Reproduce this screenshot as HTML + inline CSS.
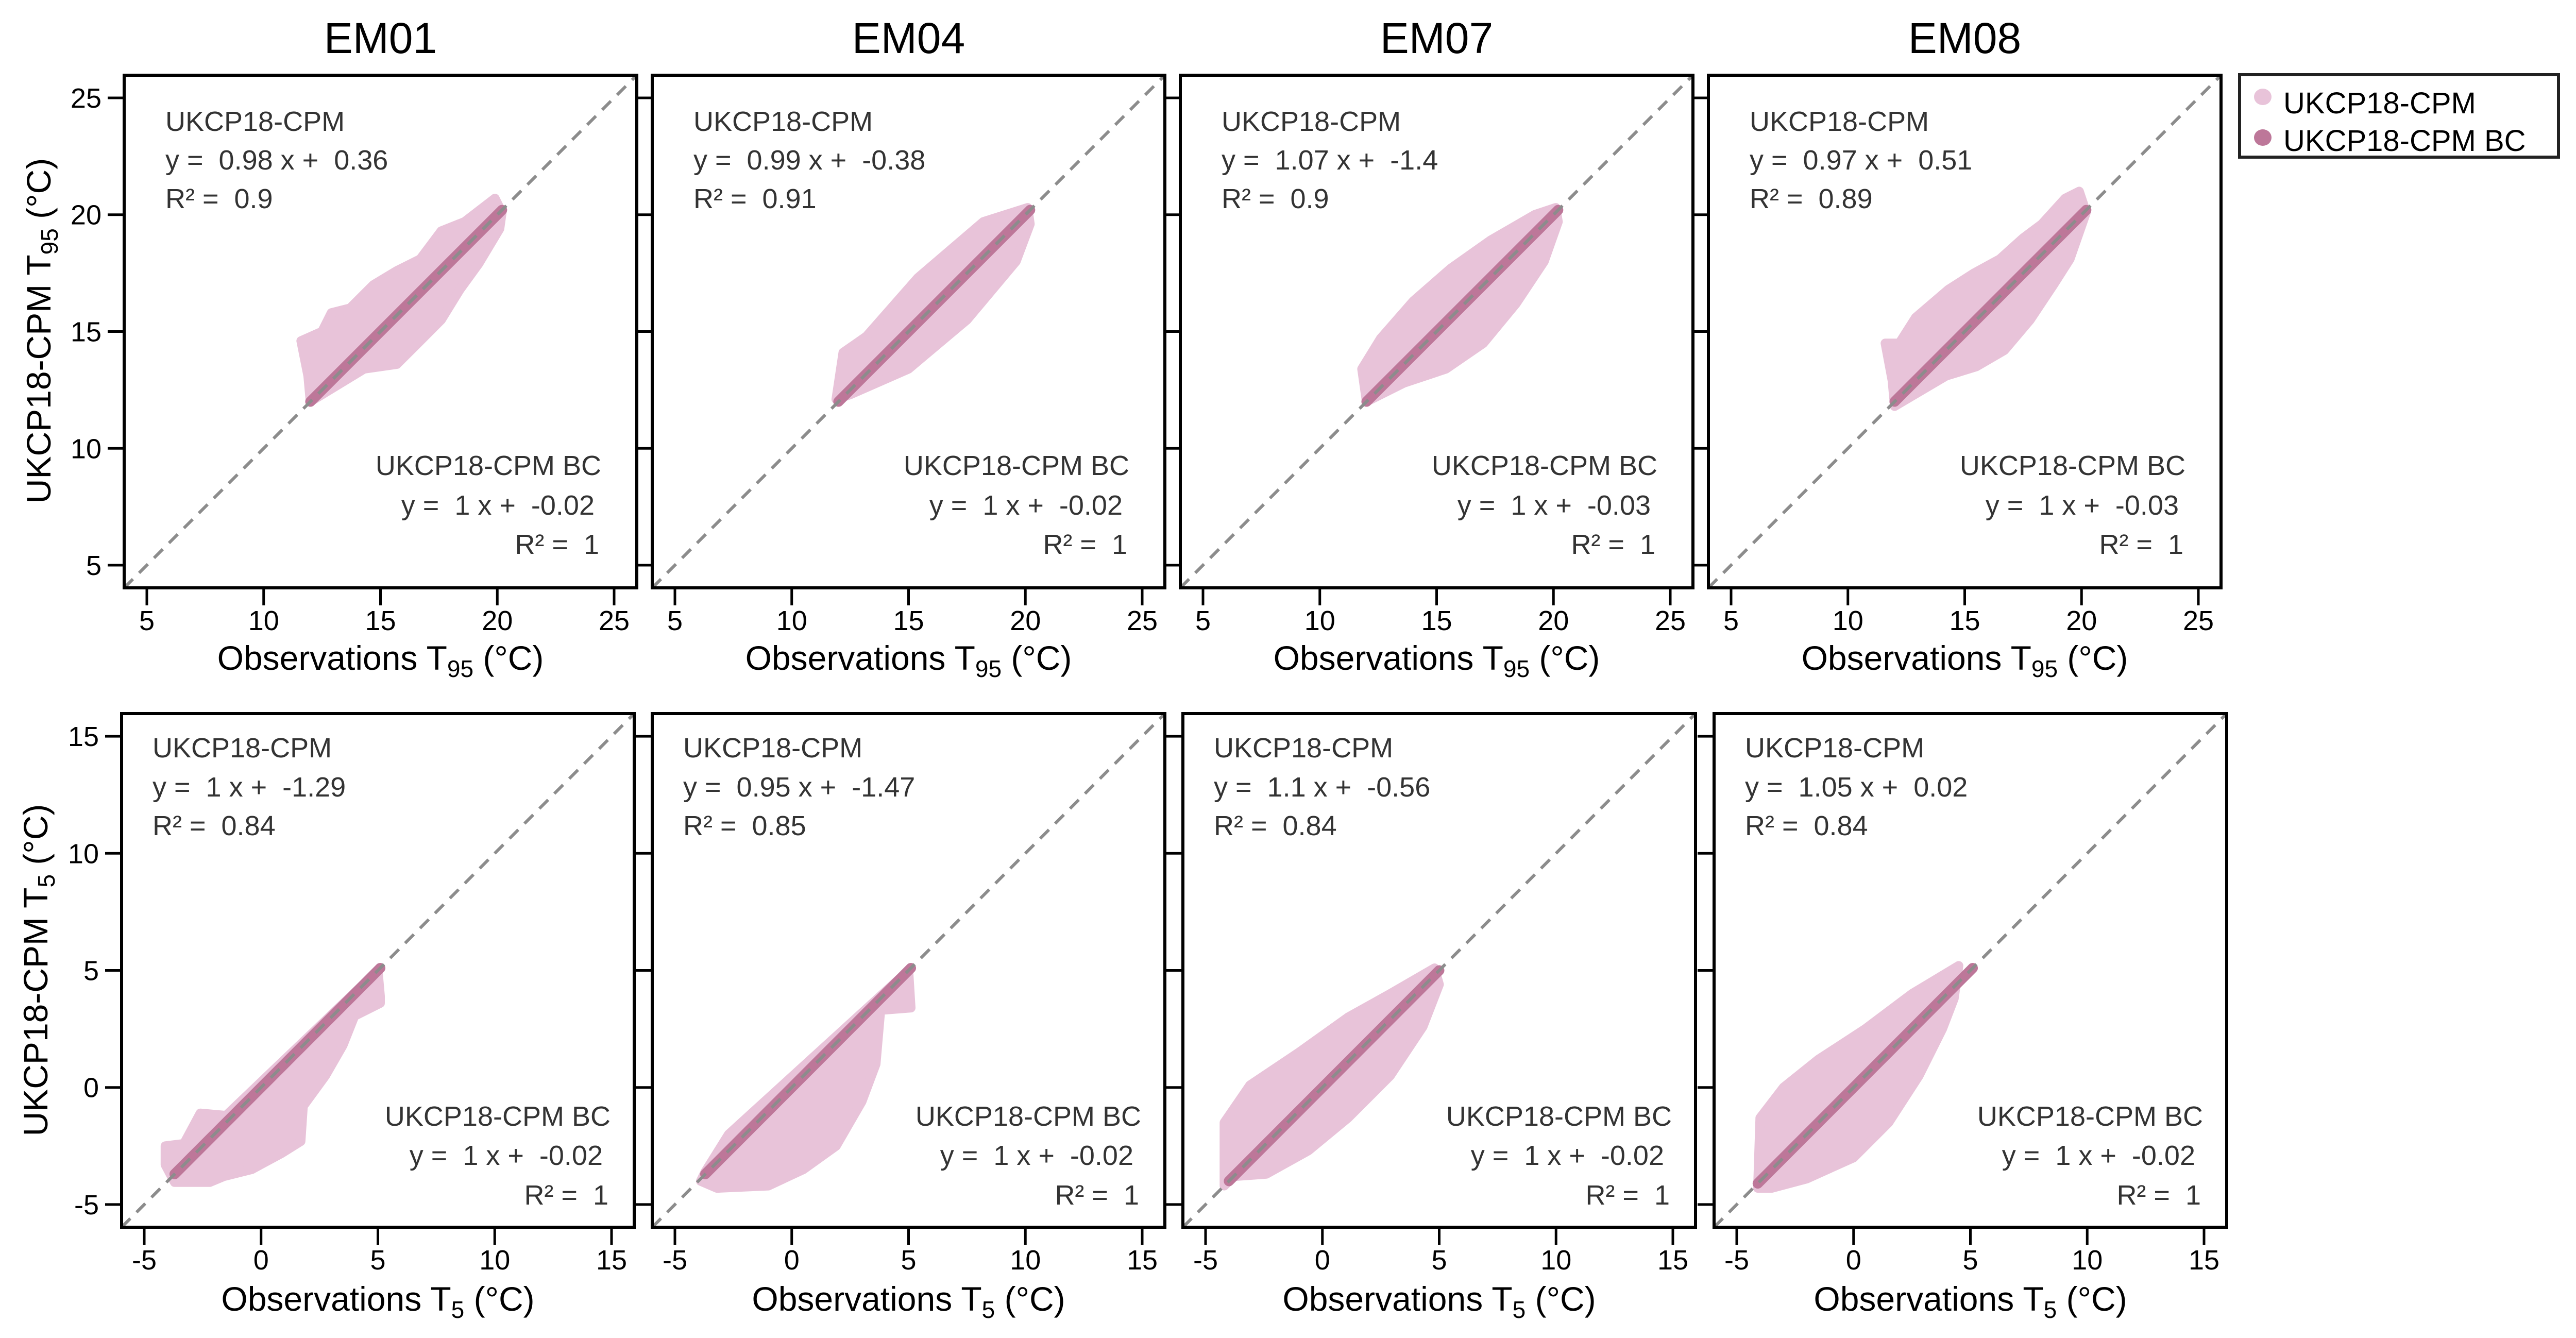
<!DOCTYPE html>
<html><head><meta charset="utf-8">
<style>
html,body{margin:0;padding:0;background:#fff;}
svg{display:block;font-family:"Liberation Sans",Arial,sans-serif;}
svg text{white-space:pre;}
</style></head>
<body>
<svg id="chart" xmlns="http://www.w3.org/2000/svg" width="5004" height="2597" viewBox="0 0 5004 2597">
<rect x="0" y="0" width="5004" height="2597" fill="#fff"/>
<g>
<rect x="4347" y="145" width="619" height="160" fill="#fff" stroke="#222" stroke-width="6"/>
<ellipse cx="4392" cy="188" rx="17" ry="16" fill="#e8c3d9"/>
<text x="4432" y="220" font-size="58">UKCP18-CPM</text>
<ellipse cx="4392" cy="267" rx="17" ry="16" fill="#bd7799"/>
<text x="4432" y="293" font-size="58">UKCP18-CPM BC</text>
</g>
</svg>
<script>
const members = ["EM01","EM04","EM07","EM08"];
const topTicks = [5,10,15,20,25];
const bottomTicks = [-5,0,5,10,15];
const topDomain = [4.03,25.97];
const bottomDomain = [-5.97,15.97];
const topCpmEq = ["y =  0.98 x +  0.36","y =  0.99 x +  -0.38","y =  1.07 x +  -1.4","y =  0.97 x +  0.51"];
const topCpmR2 = ["R² =  0.9","R² =  0.91","R² =  0.9","R² =  0.89"];
const topBcEq = ["y =  1 x +  -0.02","y =  1 x +  -0.02","y =  1 x +  -0.03","y =  1 x +  -0.03"];
const bottomCpmEq = ["y =  1 x +  -1.29","y =  0.95 x +  -1.47","y =  1.1 x +  -0.56","y =  1.05 x +  0.02"];
const bottomCpmR2 = ["R² =  0.84","R² =  0.85","R² =  0.84","R² =  0.84"];
const bottomBcEq = ["y =  1 x +  -0.02","y =  1 x +  -0.02","y =  1 x +  -0.02","y =  1 x +  -0.02"];
const topBcRange = [[12.0,20.2],[12.0,20.2],[12.0,20.2],[12.0,20.2]];
const bottomBcRange = [[-3.7,5.1],[-3.7,5.1],[-4.0,5.0],[-4.1,5.1]];
const topHullEM01 = [[11.6,14.6],[11.9,13.1],[12.0,12.0],[14.3,13.4],[15.7,13.6],[16.6,14.5],[17.6,15.5],[18.4,16.8],[19.2,17.9],[20.1,19.4],[20.2,20.1],[19.9,20.7],[18.6,19.7],[17.6,19.3],[16.7,18.1],[15.7,17.6],[14.7,17.0],[13.7,16.0],[12.9,15.8],[12.5,15.0]];
const topHullEM04 = [[11.9,12.1],[12.2,14.1],[13.2,14.8],[15.4,17.3],[18.2,19.7],[20.1,20.3],[20.2,19.6],[19.6,18.0],[17.5,15.5],[15.0,13.4],[12.5,12.3]];
const topHullEM07 = [[12.0,12.0],[11.8,13.4],[12.6,14.7],[14.0,16.3],[15.6,17.7],[17.3,18.9],[19.2,20.0],[20.1,20.3],[20.2,19.7],[19.6,18.0],[18.4,16.2],[17.0,14.5],[15.4,13.4],[13.6,12.8]];
const topHullEM08 = [[11.6,14.5],[11.9,12.9],[12.0,11.8],[14.2,13.1],[15.5,13.5],[16.7,14.2],[17.8,15.5],[18.8,17.0],[19.5,18.1],[20.2,20.1],[19.9,21.0],[19.3,20.7],[18.3,19.6],[17.5,19.0],[16.5,18.1],[15.4,17.5],[14.3,16.8],[12.9,15.6],[12.2,14.5]];
const bottomHullEM01 = [[-4.1,-2.5],[-3.3,-2.4],[-2.6,-1.1],[-1.5,-1.2],[5.0,5.0],[5.1,3.9],[5.1,3.6],[4.0,3.05],[3.5,1.8],[2.75,0.5],[1.8,-0.8],[1.7,-2.3],[0.9,-2.8],[-0.4,-3.5],[-1.6,-3.8],[-2.2,-4.05],[-3.7,-4.05],[-4.1,-3.3]];
const bottomHullEM04 = [[-3.7,-3.6],[-2.7,-2.0],[5.0,5.0],[5.1,3.4],[3.8,3.3],[3.6,1.0],[3.0,-0.6],[1.9,-2.5],[0.5,-3.5],[-1.0,-4.2],[-3.2,-4.3],[-3.9,-4.0]];
const bottomHullEM07 = [[-4.2,-4.2],[-4.2,-1.5],[-3.1,0.1],[-1.0,1.5],[1.1,3.0],[2.9,4.0],[4.8,5.1],[5.0,4.4],[4.3,2.6],[2.9,0.5],[1.1,-1.3],[-0.6,-2.7],[-2.4,-3.7],[-3.8,-3.8]];
const bottomHullEM08 = [[-4.1,-4.3],[-4.0,-1.3],[-3.0,0.0],[-1.5,1.2],[0.5,2.5],[2.5,4.0],[4.5,5.2],[4.3,3.8],[3.8,2.5],[2.8,0.5],[1.5,-1.5],[0.0,-3.0],[-2.0,-3.9],[-3.5,-4.3]];
const topHulls = [topHullEM01,topHullEM04,topHullEM07,topHullEM08];
const bottomHulls = [bottomHullEM01,bottomHullEM04,bottomHullEM07,bottomHullEM08];

const NS = "http://www.w3.org/2000/svg";
const svg = document.getElementById("chart");
function mk(tag, attrs, parent){
  const e = document.createElementNS(NS, tag);
  for (const k in attrs) e.setAttribute(k, attrs[k]);
  (parent||svg).appendChild(e);
  return e;
}
const topLefts = [241,1266,2291,3316];
const bottomLefts = [236,1266,2296,3327];

function scale(d, p0, p1){ return v => p0 + (v - d[0]) / (d[1]-d[0]) * (p1-p0); }

function panel(row, i){
  const isTop = row === 0;
  const L = isTop ? topLefts[i] : bottomLefts[i];
  const T = isTop ? 146 : 1385;
  const W = 995, H = isTop ? 995 : 997;
  const dom = isTop ? topDomain : bottomDomain;
  const ticks = isTop ? topTicks : bottomTicks;
  const sx = scale(dom, L, L+W), sy = scale(dom, T+H, T);
  const g = mk("g", {});
  
  
  const clipId = "clip"+row+i;
  const cp = mk("clipPath", {id: clipId}, g);
  mk("rect", {x:L, y:T, width:W, height:H}, cp);
  const plot = mk("g", {"clip-path":"url(#"+clipId+")"}, g);
  const hull = (isTop ? topHulls : bottomHulls)[i];
  const poly = mk("polygon", {points: hull.map(p => sx(p[0]).toFixed(1)+","+sy(p[1]).toFixed(1)).join(" "), fill:"#e8c3d9", stroke:"#e8c3d9", "stroke-width":"18", "stroke-linejoin":"round"}, plot);
  
  
  const br = (isTop ? topBcRange : bottomBcRange)[i];
  const bc = mk("line", {x1:sx(br[0]), y1:sy(br[0]), x2:sx(br[1]), y2:sy(br[1]), stroke:"#bd7799", "stroke-width":"20", "stroke-linecap":"round"}, plot);
  
  
  const dl = mk("line", {x1:sx(dom[0]), y1:sy(dom[0]), x2:sx(dom[1]), y2:sy(dom[1]), stroke:"#8c8c8c", "stroke-width":"6", "stroke-dasharray":"24 17"}, plot);
  
  
  const fr = mk("rect", {x:L, y:T, width:W, height:H, fill:"none", stroke:"#000", "stroke-width":"6"}, g);
  
  
  ticks.forEach(t => {
    const x = sx(t), y = sy(t);
    const tx = mk("line", {x1:x, y1:T+H, x2:x, y2:T+H+34, stroke:"#000", "stroke-width":"5"}, g);
    
    
    const lx = mk("text", {x:x, y:T+H+82, "font-size":"54", "text-anchor":"middle"}, g);
    lx.textContent = t;
    
    
    const ty = mk("line", {x1:L-32, y1:y, x2:L, y2:y, stroke:"#000", "stroke-width":"5"}, g);
    
    
    if (i === 0) {
      const ly = mk("text", {x:L-44, y:y+19, "font-size":"54", "text-anchor":"end"}, g);
      ly.textContent = t;
      
      
    }
  });
  const xt = mk("text", {x:L+W/2, y: isTop ? 1300 : 2544, "font-size":"66", "text-anchor":"middle"}, g);
  
  
  xt.innerHTML = 'Observations T<tspan font-size="46" dy="14">' + (isTop?'95':'5') + '</tspan><tspan dy="-14"> (°C)</tspan>';
  const cpmL = L + (isTop ? 80 : 60);
  const cb = isTop ? [T+108, T+183, T+258] : [T+85, T+161, T+236];
  const a1 = mk("text", {x:cpmL, y:cb[0], "font-size":"54", fill:"#333"}, g);
  a1.textContent = "UKCP18-CPM";
  
  
  const a2 = mk("text", {x:cpmL, y:cb[1], "font-size":"54", fill:"#333"}, g);
  a2.textContent = (isTop ? topCpmEq : bottomCpmEq)[i];
  
  
  const a3 = mk("text", {x:cpmL, y:cb[2], "font-size":"54", fill:"#333"}, g);
  a3.textContent = (isTop ? topCpmR2 : bottomCpmR2)[i];
  
  
  const R = L + W;
  const bb = isTop ? [T+H-219, T+H-142, T+H-66] : [T+H-197, T+H-121, T+H-44];
  const ro = isTop ? [69, 82, 73] : [46, 61, 50];
  const b1 = mk("text", {x:R-ro[0], y:bb[0], "font-size":"54", fill:"#333", "text-anchor":"end"}, g);
  b1.textContent = "UKCP18-CPM BC";
  
  
  const b2 = mk("text", {x:R-ro[1], y:bb[1], "font-size":"54", fill:"#333", "text-anchor":"end"}, g);
  b2.textContent = (isTop ? topBcEq : bottomBcEq)[i];
  
  
  const b3 = mk("text", {x:R-ro[2], y:bb[2], "font-size":"54", fill:"#333", "text-anchor":"end"}, g);
  b3.textContent = "R² =  1";
  
  
  if (isTop) {
    const ti = mk("text", {x:L+W/2, y:103, "font-size":"84", "text-anchor":"middle"}, g);
    ti.textContent = members[i];
    
    
  }
}
for (let i = 0; i < 4; i++) { panel(0, i); panel(1, i); }

const yt1 = mk("text", {x:0, y:0, "font-size":"66", "text-anchor":"middle", transform:"translate(98,642) rotate(-90)"});


yt1.innerHTML = 'UKCP18-CPM T<tspan font-size="46" dy="14">95</tspan><tspan dy="-14"> (°C)</tspan>';
const yt2 = mk("text", {x:0, y:0, "font-size":"66", "text-anchor":"middle", transform:"translate(92,1883) rotate(-90)"});


yt2.innerHTML = 'UKCP18-CPM T<tspan font-size="46" dy="14">5</tspan><tspan dy="-14"> (°C)</tspan>';
</script>
</body></html>
